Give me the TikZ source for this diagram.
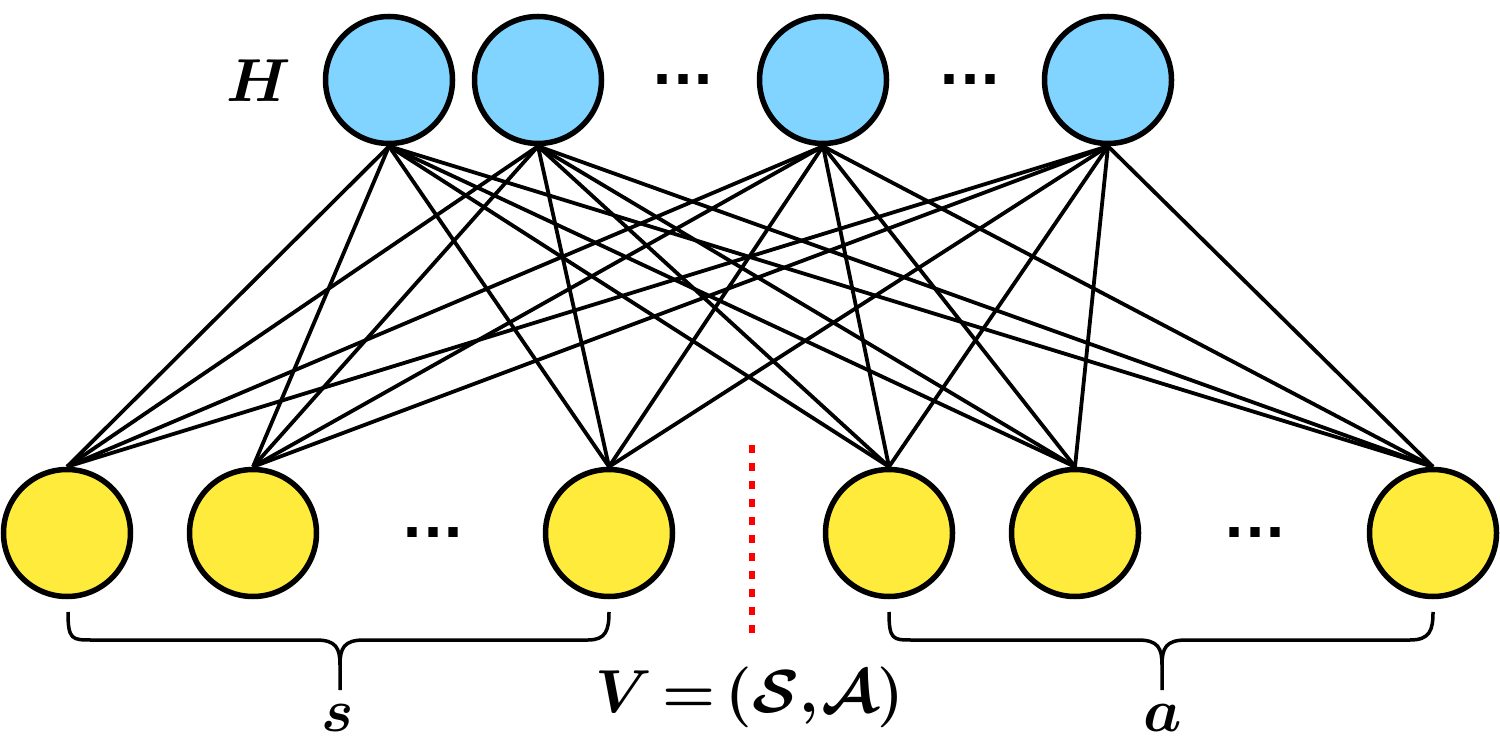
\documentclass[tikz,border=0pt]{standalone}
\usepackage{amsmath}
\usepackage{amsfonts}
\usepackage{bm}
\usepackage{fontspec}
\newfontfamily\dotfont{DejaVu Sans}
\definecolor{hiddenblue}{RGB}{128,212,255}
\definecolor{visibleyellow}{RGB}{255,235,59}

\begin{document}
\begin{tikzpicture}[x=0.1mm,y=-0.1mm,line width=0.38mm,
			hidden node/.style={circle,draw,line width=0.55mm,fill=hiddenblue,minimum size=12.7mm,inner sep=0pt},
			visible node/.style={circle,draw,line width=0.55mm,fill=visibleyellow,minimum size=12.7mm,inner sep=0pt},
			dots/.style={font=\dotfont\bfseries\fontsize{15}{18}\selectfont},
			label text/.style={font=\fontsize{16}{19}\selectfont},
			brace line/.style={line width=0.35mm}]
			\useasboundingbox (0,0) rectangle (1500,756);
			% hidden layer
			\node[hidden node] (h1) at (389,80) {};
			\node[hidden node] (h2) at (538,80) {};
			\node[hidden node] (h3) at (823,80) {};
			\node[hidden node] (h4) at (1108,80) {};
			\node[dots] (hd1) at (683,80) {...};
			\node[dots] (hd2) at (970,80) {...};
			\node[label text] (H) at (259,81) {$\bm{H}$};
			% visible layer
			\node[visible node] (s1) at (67,533) {};
			\node[visible node] (s2) at (253,533) {};
			\node[visible node] (s3) at (609,533) {};
			\node[visible node] (a1) at (889,533) {};
			\node[visible node] (a2) at (1075,533) {};
			\node[visible node] (a3) at (1433,533) {};
			\node[dots] (sd) at (433,533) {...};
			\node[dots] (ad) at (1255,533) {...};
			% connections
			\path[draw]
			(h1.south) edge (s1.north) edge (s2.north) edge (s3.north)
			edge (a1.north) edge (a2.north) edge (a3.north);
			\path[draw]
			(h2.south) edge (s1.north) edge (s2.north) edge (s3.north)
			edge (a1.north) edge (a2.north) edge (a3.north);
			\path[draw]
			(h3.south) edge (s1.north) edge (s2.north) edge (s3.north)
			edge (a1.north) edge (a2.north) edge (a3.north);
			\path[draw]
			(h4.south) edge (s1.north) edge (s2.north) edge (s3.north)
			edge (a1.north) edge (a2.north) edge (a3.north);
			% split between s and a
			\coordinate (cut top) at (752,445);
			\coordinate (cut bottom) at (752,633);
			\draw[red,line width=0.55mm,dash pattern=on 0.8mm off 1mm] (cut top) -- (cut bottom);
			% braces
			\draw[brace line] (68,612) .. controls (68,640) and (72,640) .. (92,640) -- (316,640)
			 .. controls (336,640) and (340,648) .. (340,665) -- (340,690);
			\draw[brace line] (340,665) .. controls (340,648) and (344,640) .. (364,640)
			 -- (588,640) .. controls (606,640) and (609,630) .. (609,612);
			\draw[brace line] (889,612) .. controls (889,640) and (893,640) .. (912,640) -- (1138,640)
			 .. controls (1158,640) and (1162,648) .. (1162,665) -- (1162,690);
			\draw[brace line] (1162,665) .. controls (1162,648) and (1166,640) .. (1186,640)
			 -- (1410,640) .. controls (1430,640) and (1433,630) .. (1433,612);
			\node[label text] (s) at (338,718) {$\bm{s}$};
			\node[label text] (a) at (1163,718) {$\bm{a}$};
			\node[label text] (V) at (750,697) {$\bm{V\mskip-2mu=\mskip-2mu(\mathcal{S},\mkern-2mu\mathcal{A})}$};
\end{tikzpicture}
\end{document}
